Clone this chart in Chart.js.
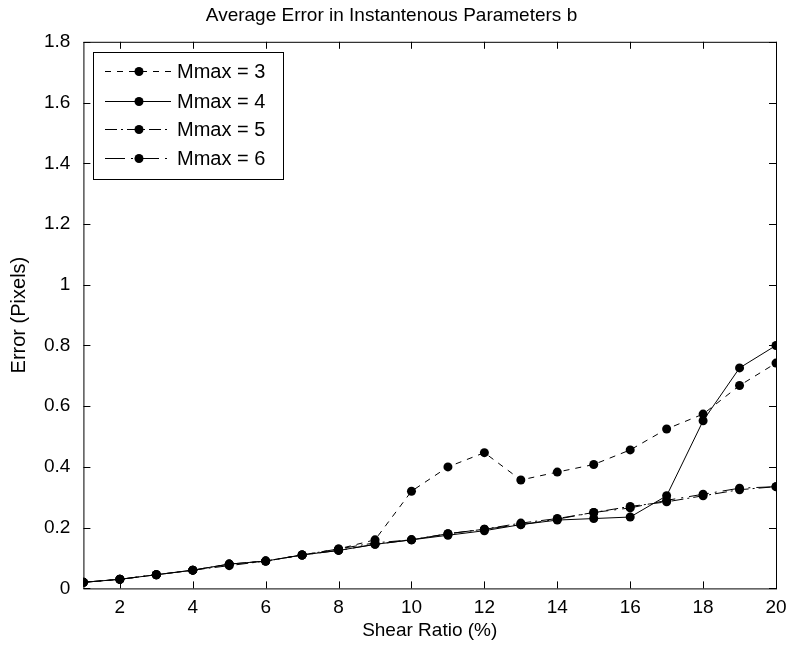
<!DOCTYPE html>
<html>
<head>
<meta charset="utf-8">
<script src="https://cdn.jsdelivr.net/npm/chart.js@4/dist/chart.umd.min.js"></script>
<style>
  html, body { margin: 0; padding: 0; background: #fff; }
  #wrap { width: 790px; height: 647px; }
</style>
</head>
<body>
<div id="wrap"><canvas id="errChart"></canvas></div>
<script>
// ================================ data =============================
var shearRatio = [1, 2, 3, 4, 5, 6, 7, 8, 9, 10, 11, 12, 13, 14, 15, 16, 17, 18, 19, 20];
var mmax3 = [0.02, 0.03, 0.045, 0.06, 0.08, 0.09, 0.11, 0.13, 0.16, 0.32, 0.40, 0.447, 0.357, 0.383, 0.408, 0.456, 0.525, 0.574, 0.668, 0.742];
var mmax4 = [0.02, 0.03, 0.045, 0.06, 0.08, 0.09, 0.11, 0.125, 0.145, 0.16, 0.175, 0.19, 0.21, 0.225, 0.23, 0.235, 0.305, 0.552, 0.726, 0.80];
var mmax5 = [0.02, 0.03, 0.045, 0.06, 0.075, 0.09, 0.11, 0.13, 0.15, 0.16, 0.18, 0.195, 0.215, 0.23, 0.25, 0.27, 0.285, 0.305, 0.325, 0.335];
var mmax6 = [0.02, 0.03, 0.045, 0.06, 0.08, 0.09, 0.11, 0.125, 0.145, 0.16, 0.18, 0.195, 0.21, 0.228, 0.25, 0.265, 0.29, 0.31, 0.33, 0.335];
var xTicks = [2, 4, 6, 8, 10, 12, 14, 16, 18, 20];
var yTicks = [0, 0.2, 0.4, 0.6, 0.8, 1, 1.2, 1.4, 1.6, 1.8];
var seriesNames = ["Mmax = 3", "Mmax = 4", "Mmax = 5", "Mmax = 6"];

var FONT = "'Liberation Sans', Arial, Helvetica, sans-serif";

function toPoints(arr) {
  return arr.map(function (v, i) { return { x: shearRatio[i], y: v }; });
}

function makeSet(label, arr, dash) {
  return {
    label: label,
    data: toPoints(arr),
    borderColor: "#000",
    backgroundColor: "#000",
    borderWidth: 1,
    borderDash: dash,
    pointRadius: 4.5,
    pointBorderWidth: 0,
    pointBackgroundColor: "#000",
    tension: 0,
  };
}

// ================================ box, inward ticks, legend ==============
var matlabFrame = {
  id: "matlabFrame",
  afterDatasetsDraw: function (chart) {
    var c = chart.ctx, a = chart.chartArea;
    var xs = chart.scales.x, ys = chart.scales.y;
    c.save();
    c.strokeStyle = "#000";
    c.lineWidth = 1;
    c.setLineDash([]);
    c.strokeRect(a.left + 0.5, a.top + 0.5, a.right - a.left, a.bottom - a.top);
    c.beginPath();
    xTicks.forEach(function (t) {
      var px = Math.round(xs.getPixelForValue(t)) + 0.5;
      c.moveTo(px, a.bottom); c.lineTo(px, a.bottom - 7);
      c.moveTo(px, a.top); c.lineTo(px, a.top + 7);
    });
    yTicks.forEach(function (t) {
      var py = Math.round(ys.getPixelForValue(t)) + 0.5;
      c.moveTo(a.left, py); c.lineTo(a.left + 7, py);
      c.moveTo(a.right, py); c.lineTo(a.right - 7, py);
    });
    c.stroke();

    // legend box
    var lx = 93, ly = 52, lw = 190, lh = 127;
    c.fillStyle = "#fff";
    c.fillRect(lx, ly, lw, lh);
    c.lineWidth = 1;
    c.strokeRect(lx + 0.5, ly + 0.5, lw, lh);
    var rows = [71, 101, 129, 158];
    c.font = "20px " + FONT;
    c.textBaseline = "middle";
    chart.data.datasets.forEach(function (ds, i) {
      var y = rows[i] + 0.5;
      c.beginPath();
      c.setLineDash(ds.borderDash || []);
      c.moveTo(105, y); c.lineTo(171, y);
      c.stroke();
      c.setLineDash([]);
      c.beginPath();
      c.arc(139, y, 4.5, 0, Math.PI * 2);
      c.fillStyle = "#000";
      c.fill();
      c.fillText(seriesNames[i], 177, y + 1);
    });
    c.restore();
  },
};

var ctx = document.getElementById("errChart").getContext("2d");
var errChart = new Chart(ctx, {
  type: "line",
  data: {
    datasets: [
      makeSet(seriesNames[0], mmax3, [6, 6]),
      makeSet(seriesNames[1], mmax4, []),
      makeSet(seriesNames[2], mmax5, [12, 4, 2, 4]),
      makeSet(seriesNames[3], mmax6, [20, 6, 2, 6]),
    ],
  },
  options: {
    responsive: true,
    maintainAspectRatio: false,
    animation: false,
    layout: { padding: { left: 7, right: 14, top: 2, bottom: 5 } },
    plugins: {
      legend: { display: false },
      tooltip: { enabled: false },
      title: {
        display: true,
        text: "Average Error in Instantenous Parameters b",
        color: "#000",
        font: { family: FONT, size: 19, weight: "normal" },
        padding: { top: 2, bottom: 15 },
      },
    },
    scales: {
      x: {
        type: "linear",
        min: 1,
        max: 20,
        grid: { display: false },
        border: { display: false },
        afterBuildTicks: function (axis) {
          axis.ticks = xTicks.map(function (v) { return { value: v }; });
        },
        ticks: {
          color: "#000",
          font: { family: FONT, size: 19 },
          padding: 0,
          maxRotation: 0,
          callback: function (v) { return String(v); },
        },
        title: {
          display: true,
          text: "Shear Ratio (%)",
          color: "#000",
          font: { family: FONT, size: 19 },
          padding: { top: 0, bottom: 0 },
        },
      },
      y: {
        type: "linear",
        min: 0,
        max: 1.8,
        grid: { display: false },
        border: { display: false },
        afterBuildTicks: function (axis) {
          axis.ticks = yTicks.map(function (v) { return { value: v }; });
        },
        ticks: {
          color: "#000",
          font: { family: FONT, size: 19 },
          padding: 5,
          callback: function (v) { return String(v); },
        },
        title: {
          display: true,
          text: "Error (Pixels)",
          color: "#000",
          font: { family: FONT, size: 20 },
          padding: { top: 0, bottom: 8 },
        },
      },
    },
  },
  plugins: [matlabFrame],
});
</script>
</body>
</html>
